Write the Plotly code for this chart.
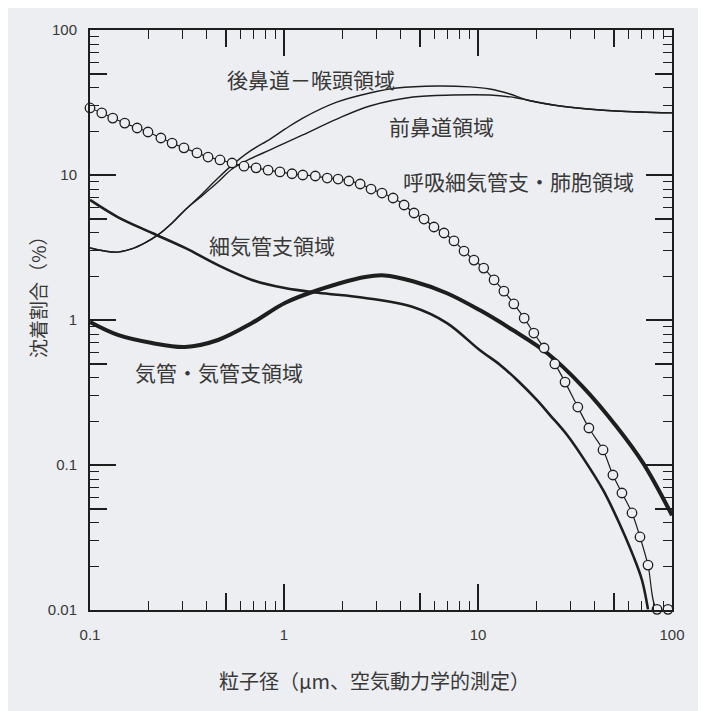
import plotly.graph_objects as go

# ---- data (x: particle diameter um, y: deposition %) ----
alv_x = [0.100, 0.115, 0.131, 0.151, 0.175, 0.199, 0.232, 0.265, 0.305, 0.356, 0.406, 0.468,
         0.540, 0.622, 0.718, 0.828, 0.953, 1.10, 1.25, 1.45, 1.67, 1.90, 2.16, 2.47, 2.81,
         3.20, 3.65, 4.16, 4.68, 5.27, 5.93, 6.68, 7.52, 8.47, 9.53, 10.7, 12.1, 13.6, 15.3,
         17.3, 19.4, 21.9, 24.9, 28.1, 32.7, 37.3, 44.1, 49.6, 55.2, 62.2, 68.4, 75.2, 83.7, 95.3]
alv_y = [29.0, 26.8, 24.7, 22.8, 21.1, 19.8, 18.0, 16.6, 15.4, 14.2, 13.3, 12.7,
         12.1, 11.5, 11.2, 10.8, 10.5, 10.2, 10.0, 9.84, 9.53, 9.38, 9.09, 8.67, 8.00,
         7.51, 6.94, 6.21, 5.47, 4.97, 4.38, 3.98, 3.51, 2.99, 2.59, 2.28, 1.89, 1.58, 1.29,
         1.03, 0.813, 0.641, 0.498, 0.373, 0.251, 0.180, 0.127, 0.0853, 0.0641, 0.0467,
         0.0319, 0.0204, 0.0101, 0.0101]

post_x = [0.100, 0.119, 0.139, 0.164, 0.192, 0.224, 0.265, 0.309, 0.369, 0.457, 0.540, 0.668,
          0.848, 1.01, 1.25, 1.87, 2.77, 3.82, 6.15, 9.10, 11.5, 14.6, 17.9, 26.5, 42.6, 68.4, 100]
post_y = [3.14, 2.99, 2.94, 3.09, 3.40, 3.86, 4.67, 5.74, 7.16, 9.53, 11.7, 14.6,
          17.7, 20.7, 24.7, 31.8, 36.8, 39.8, 41.1, 40.5, 39.2, 36.2, 32.9, 29.9, 28.1, 27.2, 26.8]

ant_x = [0.100, 0.119, 0.139, 0.164, 0.192, 0.224, 0.265, 0.309, 0.369, 0.457, 0.540, 0.668,
         0.848, 1.01, 1.25, 1.87, 2.77, 4.62, 7.43, 11.5, 15.9, 17.9, 26.5, 42.6, 68.4, 100]
ant_y = [3.14, 2.99, 2.94, 3.09, 3.40, 3.86, 4.67, 5.74, 7.0, 8.95, 11.0, 12.9,
         14.9, 16.6, 18.9, 24.3, 29.9, 34.5, 35.6, 35.6, 34.0, 32.9, 29.9, 28.1, 27.2, 26.8]

bron_x = [0.100, 0.139, 0.209, 0.309, 0.457, 0.684, 1.01, 1.50, 2.62, 4.62, 6.92, 10.2, 13.0,
          15.9, 20.1, 23.5, 28.8, 34.8, 44.1, 52.0, 62.9, 70.0, 75.2]
bron_y = [6.73, 5.13, 3.98, 3.14, 2.39, 1.89, 1.66, 1.54, 1.42, 1.23, 0.953, 0.621, 0.490,
          0.386, 0.281, 0.221, 0.161, 0.112, 0.0673, 0.0431, 0.0239, 0.0161, 0.0101]

trach_x = [0.100, 0.139, 0.209, 0.309, 0.457, 0.684, 1.01, 1.50, 2.62, 3.30, 4.62, 6.92, 10.2,
           15.1, 22.7, 34.8, 52.0, 71.0, 100]
trach_y = [0.968, 0.789, 0.694, 0.652, 0.728, 0.953, 1.31, 1.61, 1.98, 2.03, 1.85, 1.53, 1.17,
           0.853, 0.592, 0.345, 0.183, 0.103, 0.045]

x_ticks = [0.1, 1, 10, 100]
x_ticktext = ["0.1", "1", "10", "100"]
y_ticks = [0.01, 0.1, 1, 10, 100]
y_ticktext = ["0.01", "0.1", "1", "10", "100"]
mid_x_ticks = [0.5, 5, 50]
mid_y_ticks = [0.05, 0.5, 5, 50]

labels = ["後鼻道－喉頭領域", "前鼻道領域", "呼吸細気管支・肺胞領域", "細気管支領域", "気管・気管支領域"]
x_title = "粒子径（μm、空気動力学的測定）"
y_title = "沈着割合（%）"

# ---- layout geometry ----
# the page body adds an 8px offset; plot area in window pixels: x 90..672, y 30..610
OFF = 8
W, H = 706, 711
PL, PR, PT, PB = 90, 672, 30, 610
L, T = PL - OFF, PT - OFF
R, B = W - (PR - OFF), H - (PB - OFF)
PW, PH = PR - PL, PB - PT


def px(xp):
    return (xp - PL) / PW


def py(yp):
    return (PB - yp) / PH


INK = "#1e1e1e"
TXT = "#383838"
BG = "#eceef1"
CJK = "Noto Sans CJK JP"

fig = go.Figure()

fig.add_trace(go.Scatter(x=post_x, y=post_y, mode="lines", line=dict(color=INK, width=1.4, shape="spline"),
                         hoverinfo="skip"))
fig.add_trace(go.Scatter(x=ant_x, y=ant_y, mode="lines", line=dict(color=INK, width=1.4, shape="spline"),
                         hoverinfo="skip"))
fig.add_trace(go.Scatter(x=bron_x, y=bron_y, mode="lines", line=dict(color=INK, width=2.6, shape="spline"),
                         hoverinfo="skip"))
fig.add_trace(go.Scatter(x=trach_x, y=trach_y, mode="lines", line=dict(color=INK, width=4, shape="spline"),
                         hoverinfo="skip"))
fig.add_trace(go.Scatter(x=alv_x, y=alv_y, mode="lines+markers", cliponaxis=False,
                         line=dict(color=INK, width=1.2, shape="spline"),
                         marker=dict(symbol="circle", size=9.5, color=BG, line=dict(color=INK, width=1.3)),
                         hoverinfo="skip"))
# helper trace on the overlay axes (carries medium tick marks)
fig.add_trace(go.Scatter(x=alv_x, y=alv_y, xaxis="x2", yaxis="y2", mode="lines", opacity=0,
                         hoverinfo="skip"))

tickfont = dict(family="Liberation Sans", size=15, color=TXT)
common = dict(type="log", showgrid=False, zeroline=False, showline=True, linecolor=INK, linewidth=2,
              ticks="inside", tickcolor=INK, tickwidth=1.5, mirror="ticks")

fig.update_layout(
    width=W, height=H, margin=dict(l=L, r=R, t=T, b=B),
    paper_bgcolor=BG, plot_bgcolor="rgba(0,0,0,0)", showlegend=False,
    xaxis=dict(**common, range=[-1, 2], tickvals=x_ticks, ticktext=x_ticktext, ticklen=26,
               tickfont=tickfont, ticklabelstandoff=10,
               minor=dict(ticks="inside", ticklen=9, tickwidth=1.2, tickcolor=INK, dtick="D1", showgrid=False)),
    yaxis=dict(**common, range=[-2, 2], tickvals=y_ticks, ticktext=y_ticktext, ticklen=26,
               tickfont=tickfont, ticklabelstandoff=8,
               minor=dict(ticks="inside", ticklen=9, tickwidth=1.2, tickcolor=INK, dtick="D1", showgrid=False)),
    xaxis2=dict(**common, range=[-1, 2], overlaying="x", anchor="y2", tickvals=mid_x_ticks,
                showticklabels=False, ticklen=17),
    yaxis2=dict(**common, range=[-2, 2], overlaying="y", anchor="x2", tickvals=mid_y_ticks,
                showticklabels=False, ticklen=17),
)

label_pos = [(311, 79), (441, 126), (518, 181), (272, 245), (219, 372)]
for text, (xp, yp) in zip(labels, label_pos):
    fig.add_annotation(x=px(xp), y=py(yp), xref="paper", yref="paper", text=text, showarrow=False,
                       xanchor="center", yanchor="middle", font=dict(family=CJK, size=21, color=TXT))

fig.add_annotation(x=px(374), y=py(680), xref="paper", yref="paper", text=x_title, showarrow=False,
                   xanchor="center", yanchor="middle", font=dict(family=CJK, size=20, color=TXT))
fig.add_annotation(x=px(37), y=py(292), xref="paper", yref="paper", text=y_title, showarrow=False,
                   textangle=-90, xanchor="center", yanchor="middle", font=dict(family=CJK, size=19, color=TXT))

fig.write_html("out.html")
